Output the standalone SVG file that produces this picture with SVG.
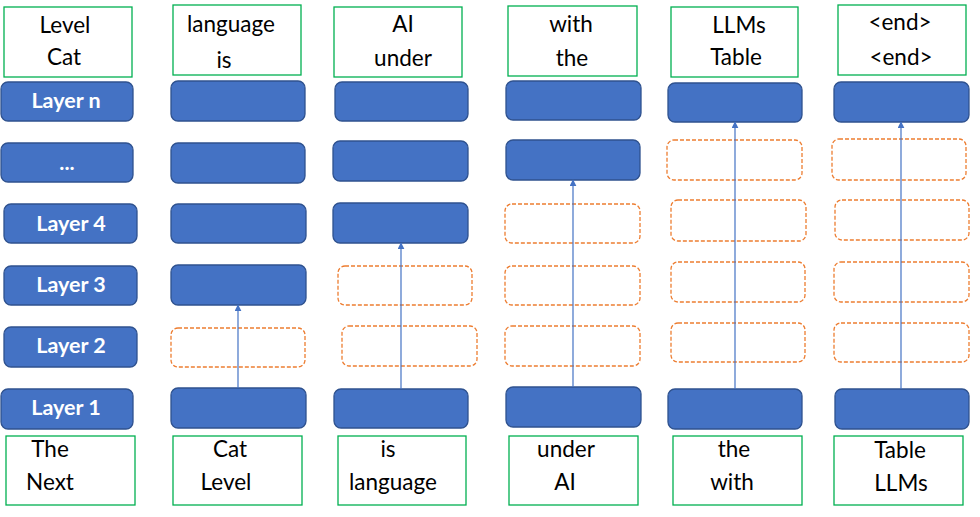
<svg xmlns="http://www.w3.org/2000/svg" width="980" height="517" viewBox="0 0 980 517">
<defs>
<style>
.tok{fill:#fff;stroke:#00B050;stroke-width:1.3}
.blk{fill:#4472C4;stroke:#2F528F;stroke-width:1.3}
.skip{fill:#fff;stroke:#ED7D31;stroke-width:1.3;stroke-dasharray:4 2}
.t{font-family:Lato,"Open Sans","DejaVu Sans",sans-serif;font-size:22.5px;fill:#000;text-anchor:middle}
.l{font-family:Lato,"Open Sans","DejaVu Sans",sans-serif;font-size:21.5px;font-weight:bold;fill:#fff;text-anchor:middle}
.arr{stroke:#4472C4;stroke-width:1.2;fill:none;marker-end:url(#ah)}
</style>
<marker id="ah" viewBox="0 0 10 10" refX="9" refY="5" markerWidth="7" markerHeight="7" orient="auto" markerUnits="userSpaceOnUse">
<path d="M0,0 L10,5 L0,10 Z" fill="#4472C4"/>
</marker>
</defs>
<rect width="980" height="517" fill="#fff"/>

<!-- output tokens -->
<g id="out1"><rect class="tok" x="4" y="7" width="128" height="70"/><text class="t" x="65" y="33">Level</text><text class="t" x="64" y="65">Cat</text></g>
<g id="out2"><rect class="tok" x="173" y="5" width="128" height="70"/><text class="t" x="231" y="32">language</text><text class="t" x="224" y="68">is</text></g>
<g id="out3"><rect class="tok" x="334" y="7" width="128" height="70"/><text class="t" x="403" y="32">AI</text><text class="t" x="403" y="66">under</text></g>
<g id="out4"><rect class="tok" x="508" y="6" width="129" height="70"/><text class="t" x="571" y="32">with</text><text class="t" x="572" y="66">the</text></g>
<g id="out5"><rect class="tok" x="671" y="7" width="127" height="70"/><text class="t" x="739" y="33">LLMs</text><text class="t" x="736" y="65">Table</text></g>
<g id="out6"><rect class="tok" x="838" y="5" width="128" height="70"/><text class="t" x="900" y="30">&lt;end&gt;</text><text class="t" x="901" y="65">&lt;end&gt;</text></g>

<!-- layer labels column -->
<g id="layer-n"><rect class="blk" x="1" y="82" width="132" height="39" rx="7"/><text class="l" x="66" y="108">Layer n</text></g>
<g id="layer-dots"><rect class="blk" x="1" y="143" width="132" height="39" rx="7"/><text class="l" x="67" y="170">...</text></g>
<g id="layer-4"><rect class="blk" x="4" y="204" width="133" height="39" rx="7"/><text class="l" x="71" y="231">Layer 4</text></g>
<g id="layer-3"><rect class="blk" x="4" y="266" width="133" height="39" rx="7"/><text class="l" x="71" y="292">Layer 3</text></g>
<g id="layer-2"><rect class="blk" x="4" y="327" width="133" height="40" rx="7"/><text class="l" x="71" y="353">Layer 2</text></g>
<g id="layer-1"><rect class="blk" x="1" y="389" width="132" height="40" rx="7"/><text class="l" x="66" y="415">Layer 1</text></g>

<!-- column 2 -->
<g id="c2-n"><rect class="blk" x="171" y="81" width="134" height="40" rx="7"/></g>
<g id="c2-d"><rect class="blk" x="171" y="143" width="134" height="40" rx="7"/></g>
<g id="c2-4"><rect class="blk" x="171" y="204" width="135" height="39" rx="7"/></g>
<g id="c2-3"><rect class="blk" x="171" y="265" width="135" height="40" rx="7"/></g>
<g id="c2-2"><rect class="skip" x="171" y="328" width="134" height="39" rx="7"/></g>
<g id="c2-1"><rect class="blk" x="171" y="388" width="135" height="40" rx="7"/></g>

<!-- column 3 -->
<g id="c3-n"><rect class="blk" x="335" y="82" width="133" height="39" rx="7"/></g>
<g id="c3-d"><rect class="blk" x="333" y="141" width="135" height="40" rx="7"/></g>
<g id="c3-4"><rect class="blk" x="333" y="203" width="135" height="40" rx="7"/></g>
<g id="c3-3"><rect class="skip" x="338" y="266" width="134" height="39" rx="7"/></g>
<g id="c3-2"><rect class="skip" x="342" y="326" width="135" height="40" rx="7"/></g>
<g id="c3-1"><rect class="blk" x="334" y="389" width="134" height="39" rx="7"/></g>

<!-- column 4 -->
<g id="c4-n"><rect class="blk" x="506" y="81" width="135" height="39" rx="7"/></g>
<g id="c4-d"><rect class="blk" x="506" y="140" width="134" height="40" rx="7"/></g>
<g id="c4-4"><rect class="skip" x="505" y="204" width="135" height="39" rx="7"/></g>
<g id="c4-3"><rect class="skip" x="505" y="266" width="135" height="39" rx="7"/></g>
<g id="c4-2"><rect class="skip" x="505" y="326" width="135" height="40" rx="7"/></g>
<g id="c4-1"><rect class="blk" x="506" y="387" width="135" height="40" rx="7"/></g>

<!-- column 5 -->
<g id="c5-n"><rect class="blk" x="668" y="83" width="134" height="39" rx="7"/></g>
<g id="c5-d"><rect class="skip" x="667" y="140" width="135" height="40" rx="7"/></g>
<g id="c5-4"><rect class="skip" x="671" y="200" width="135" height="41" rx="7"/></g>
<g id="c5-3"><rect class="skip" x="671" y="262" width="134" height="40" rx="7"/></g>
<g id="c5-2"><rect class="skip" x="671" y="323" width="134" height="39" rx="7"/></g>
<g id="c5-1"><rect class="blk" x="668" y="389" width="134" height="40" rx="7"/></g>

<!-- column 6 -->
<g id="c6-n"><rect class="blk" x="834" y="82" width="135" height="40" rx="7"/></g>
<g id="c6-d"><rect class="skip" x="832" y="139" width="134" height="41" rx="7"/></g>
<g id="c6-4"><rect class="skip" x="835" y="200" width="134" height="40" rx="7"/></g>
<g id="c6-3"><rect class="skip" x="834" y="262" width="135" height="40" rx="7"/></g>
<g id="c6-2"><rect class="skip" x="834" y="323" width="135" height="39" rx="7"/></g>
<g id="c6-1"><rect class="blk" x="835" y="389" width="134" height="40" rx="7"/></g>

<!-- input tokens -->
<g id="in1"><rect class="tok" x="6" y="436" width="129" height="69"/><text class="t" x="50" y="457">The</text><text class="t" x="50" y="490">Next</text></g>
<g id="in2"><rect class="tok" x="173" y="436" width="129" height="69"/><text class="t" x="230" y="457">Cat</text><text class="t" x="226" y="490">Level</text></g>
<g id="in3"><rect class="tok" x="338" y="436" width="128" height="69"/><text class="t" x="388" y="457">is</text><text class="t" x="393" y="490">language</text></g>
<g id="in4"><rect class="tok" x="509" y="436" width="129" height="69"/><text class="t" x="566" y="457">under</text><text class="t" x="565" y="490">AI</text></g>
<g id="in5"><rect class="tok" x="673" y="436" width="129" height="69"/><text class="t" x="734" y="457">the</text><text class="t" x="732" y="490">with</text></g>
<g id="in6"><rect class="tok" x="834" y="436" width="129" height="69"/><text class="t" x="900" y="458">Table</text><text class="t" x="901" y="491">LLMs</text></g>

<!-- connectors -->
<g id="connectors">
<line class="arr" x1="238" y1="388" x2="238" y2="305"/>
<line class="arr" x1="401" y1="389" x2="401" y2="243"/>
<line class="arr" x1="573" y1="387" x2="573" y2="180"/>
<line class="arr" x1="735" y1="389" x2="735" y2="122"/>
<line class="arr" x1="901" y1="389" x2="901" y2="122"/>
</g>
</svg>
